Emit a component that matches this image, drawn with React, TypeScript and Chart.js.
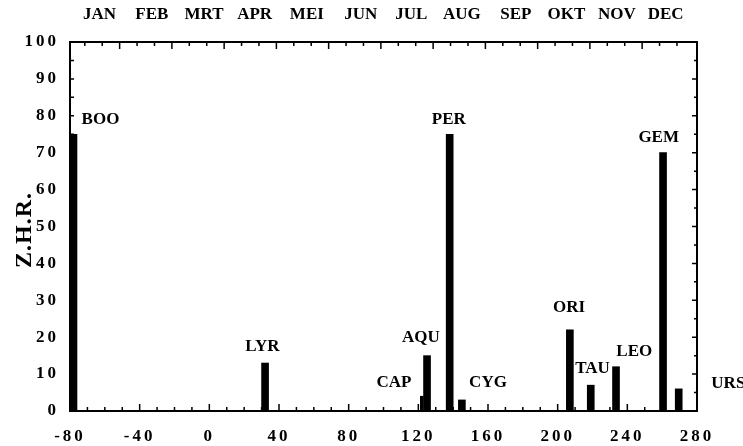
import React, { useEffect, useRef } from 'react';
import { Chart, registerables } from 'chart.js';

Chart.register(...registerables);

// Meteor showers: peak position on the axis and zenithal hourly rate
const showers = ['BOO', 'LYR', 'CAP', 'AQU', 'PER', 'CYG', 'ORI', 'TAU', 'LEO', 'GEM', 'URS'];
const peakX = [-78, 32, 122, 125, 138, 145, 207, 219, 233.5, 260.5, 269.5];
const zhr = [75, 13, 4, 15, 75, 3, 22, 7, 12, 70, 6];

// Where each shower name is written (data units)
const labelX = [-62.5, 30.5, 106, 121.5, 137.5, 160, 206.5, 220, 244, 258, 298];
const labelY = [79, 17.5, 7.6, 20, 79, 7.6, 28, 11.5, 16, 74, 7.3];

// Month names along the top
const months = ['JAN', 'FEB', 'MRT', 'APR', 'MEI', 'JUN', 'JUL', 'AUG', 'SEP', 'OKT', 'NOV', 'DEC'];
const monthX = [-63, -33, -3, 26, 56, 87, 116, 145, 176, 205, 234, 262];

const yTitle = 'Z.H.R.';

const SERIF = '"Liberation Serif", "Times New Roman", serif';

const framePlugin = {
  id: 'frame',
  beforeDraw(chart: any) {
    const ctx = chart.ctx;
    ctx.save();
    ctx.fillStyle = '#fff';
    ctx.fillRect(0, 0, chart.width, chart.height);
    ctx.restore();
    ctx.letterSpacing = '3px';
  },
  afterDraw(chart: any) {
    const ctx = chart.ctx;
    const { left, right, top, bottom } = chart.chartArea;
    const xs = chart.scales.x;
    const ys = chart.scales.y;
    ctx.letterSpacing = '0px';
    ctx.save();
    ctx.strokeStyle = '#000';
    ctx.lineWidth = 2;
    ctx.strokeRect(left, top, right - left, bottom - top);

    ctx.lineWidth = 1.5;
    ctx.beginPath();
    for (let v = -70; v < 280; v += 10) {
      const px = xs.getPixelForValue(v);
      const len = v % 40 === 0 ? 7 : 4;
      ctx.moveTo(px, bottom);
      ctx.lineTo(px, bottom - len);
    }
    for (let k = 0; k < 35; k++) {
      const px = xs.getPixelForValue(-71.5 + 10 * k);
      const len = (k - 2) % 3 === 0 ? 7 : 4;
      ctx.moveTo(px, top);
      ctx.lineTo(px, top + len);
    }
    for (let v = 5; v < 100; v += 5) {
      const py = ys.getPixelForValue(v);
      ctx.moveTo(left, py);
      ctx.lineTo(left + 4, py);
      ctx.moveTo(right, py);
      ctx.lineTo(right - (v % 10 === 0 ? 5 : 3), py);
    }
    ctx.stroke();

    ctx.fillStyle = '#000';
    // month names
    ctx.font = `bold 17px ${SERIF}`;
    ctx.textAlign = 'center';
    ctx.textBaseline = 'middle';
    months.forEach((m, i) => {
      ctx.fillText(m, xs.getPixelForValue(monthX[i]), 15);
    });

    // shower names
    ctx.font = `bold 17px ${SERIF}`;
    showers.forEach((s, i) => {
      ctx.fillText(s, xs.getPixelForValue(labelX[i]), ys.getPixelForValue(labelY[i]));
    });

    // y title
    ctx.save();
    ctx.translate(25, 230);
    ctx.rotate(-Math.PI / 2);
    ctx.font = `bold 24px ${SERIF}`;
    ctx.letterSpacing = '1px';
    ctx.fillText(yTitle, 0, 0);
    ctx.restore();
    ctx.restore();
  },
};

export default function App() {
  const ref = useRef<HTMLCanvasElement>(null);

  useEffect(() => {
    const capIdx = showers.indexOf('CAP');
    const wide = showers
      .map((_, i) => i)
      .filter((i) => i !== capIdx)
      .map((i) => ({ x: peakX[i], y: zhr[i] }));
    const narrow = [{ x: peakX[capIdx], y: zhr[capIdx] }];

    const tickFont = { family: SERIF, weight: 'bold' as const, size: 17 };

    const chart = new Chart(ref.current!, {
      type: 'bar',
      data: {
        datasets: [
          {
            label: 'ZHR',
            data: wide as any,
            backgroundColor: '#000',
            borderWidth: 0,
            barThickness: 7,
            grouped: false,
          } as any,
          {
            label: 'CAP',
            data: narrow as any,
            backgroundColor: '#000',
            borderWidth: 0,
            barThickness: 3,
            grouped: false,
          } as any,
        ],
      },
      options: {
        animation: false,
        responsive: false,
        layout: { padding: { left: 0, right: 46, top: 42, bottom: 0 } },
        plugins: {
          legend: { display: false },
          tooltip: { enabled: false },
          title: { display: false },
        },
        scales: {
          x: {
            type: 'linear',
            min: -80,
            max: 280,
            offset: false,
            grid: { display: false, drawTicks: false },
            border: { display: false },
            ticks: {
              stepSize: 40,
              font: tickFont,
              color: '#000',
              padding: 15,
              maxRotation: 0,
              autoSkip: false,
            },
            afterFit: (s: any) => {
              s.height = 35;
            },
          },
          y: {
            type: 'linear',
            min: 0,
            max: 100,
            grid: { display: false, drawTicks: false },
            border: { display: false },
            ticks: {
              stepSize: 10,
              font: tickFont,
              color: '#000',
              padding: 11,
            },
            afterFit: (s: any) => {
              s.width = 70;
            },
          },
        },
      } as any,
      plugins: [framePlugin],
    });
    return () => chart.destroy();
  }, []);

  return (
    <div style={{ position: 'fixed', left: 0, top: 0, width: 743, height: 446, background: '#fff' }}>
      <canvas ref={ref} width={743} height={446} style={{ display: 'block' }} />
    </div>
  );
}
